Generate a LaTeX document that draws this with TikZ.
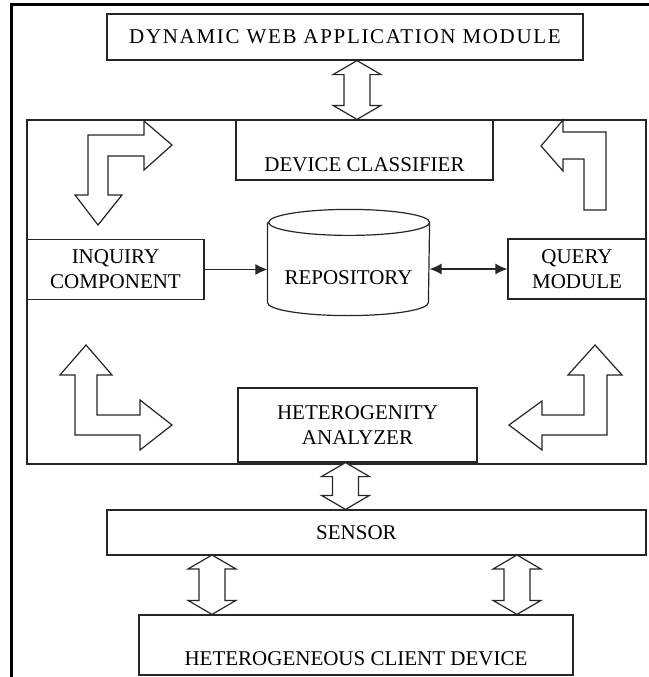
\documentclass[tikz,border=0pt]{standalone}
\usepackage{fontspec}
\setmainfont{Liberation Serif}
\usetikzlibrary{positioning, calc, arrows.meta}

% hollow up/down arrow between two tips
\newcommand{\twoway}[2]{%
  \draw[hollow] (#1) -- ++(24,14) -- ++(-11,0) 
  -- ($(#2)+(13,-14)$) -- ++(11,0) -- (#2) 
  -- ++(-24,-14) -- ++(11,0) 
  -- ($(#1)+(-13,14)$) -- ++(-11,0) -- cycle;}

\begin{document}
\begin{tikzpicture}[x=1pt, y=-1pt,
    block/.style={rectangle, 
      draw=black!85, 
      line width=1.2pt, 
      align=center, 
      inner sep=0pt, 
      font=\fontsize{21}{25}\selectfont},
    hollow/.style={draw=black!85, 
      line width=1.2pt, 
      fill=white, 
      line join=miter},
    link/.style={line width=1.2pt, 
      draw=black!85}]
  \useasboundingbox (0,0) rectangle (648,677);

  % outer frame, cut by the page
  \draw[line width=3pt] (11,700) -- (11,5) -- (700,5);

  \node[block, minimum width=476, minimum height=46, 
    font=\fontsize{21}{25}\selectfont\addfontfeatures{LetterSpace=8}] (webapp) 
    at (345,37) {DYNAMIC WEB APPLICATION MODULE};

  \node[block, minimum width=619, minimum height=344] (core) 
    at (336.5,292) {};

  \node[block, minimum width=257, minimum height=60, 
    text height=42pt, text depth=0pt] (classifier) 
    at (364.5,150) {DEVICE CLASSIFIER};

  \node[block, minimum width=177, minimum height=60] (inquiry) 
    at (115.5,269.5) {INQUIRY\\COMPONENT};

  \node[block, draw=none, minimum width=161, minimum height=105, 
    text height=43pt, text depth=0pt] (repo) 
    at (348.5,262.5) {REPOSITORY};

  \node[block, minimum width=138, minimum height=60] (query) 
    at (577,269) {QUERY\\MODULE};

  \node[block, minimum width=239, minimum height=74] (analyzer) 
    at (357.5,425) {HETEROGENITY\\ANALYZER};

  \node[block, minimum width=539, minimum height=45] (sensor) 
    at (376.5,532.5) {SENSOR\hspace*{40pt}};

  \node[block, minimum width=434, minimum height=60, 
    text height=40pt, text depth=0pt] (client) 
    at (356,645) {HETEROGENEOUS CLIENT DEVICE};

  % repository drum
  \draw[link] ([yshift=-13pt]repo.north west) 
    -- ([yshift=13pt]repo.south west) 
    arc[start angle=180, end angle=360, x radius=80.5pt, y radius=13pt] 
    -- ([yshift=-13pt]repo.north east) 
    arc[start angle=0, end angle=360, x radius=80.5pt, y radius=13pt];

  % DATA LINKS
  \draw[link, -{Latex[length=12pt, width=11pt]}] 
    (inquiry) -- (inquiry -| repo.west);
  \draw[link, {Latex[length=12pt, width=11pt]}-{Latex[length=12pt, width=11pt]}] 
    (repo.east |- query) -- (query);

  % HOLLOW TWO-WAY ARROWS
  \coordinate (t1) at ($(webapp.south)+(12,0)$);
  \coordinate (b1) at (t1 |- classifier.north);
  \twoway{t1}{b1}

  \coordinate (t2) at ($(analyzer.south)+(-12,0)$);
  \coordinate (b2) at (t2 |- sensor.north);
  \twoway{t2}{b2}

  \coordinate (t3) at (212,555);
  \coordinate (b3) at (t3 |- client.north);
  \twoway{t3}{b3}

  \coordinate (t4) at (517,555);
  \coordinate (b4) at (t4 |- client.north);
  \twoway{t4}{b4}

  % BENT FLOW ARROWS
  \draw[hollow] (172,145) -- (144,121) -- (144,135) -- (88,135) 
    -- (88,195) -- (75,195) -- (98,225) -- (122,195) -- (108,195) 
    -- (108,156) -- (144,156) -- (144,170) -- cycle;

  \draw[hollow] (541,146) -- (563,120) -- (563,132) -- (606,132) 
    -- (606,210) -- (584,210) -- (584,159) -- (563,159) 
    -- (563,171) -- cycle;

  \draw[hollow] (86,345) -- (112,375) -- (97,375) -- (97,415) 
    -- (140,415) -- (140,400) -- (172,425) -- (140,450) -- (140,435) 
    -- (75,435) -- (75,375) -- (60,375) -- cycle;

  \draw[hollow] (595,345) -- (622,375) -- (607,375) -- (607,435) 
    -- (542,435) -- (542,450) -- (509,425) -- (542,401) -- (542,415) 
    -- (584,415) -- (584,375) -- (568,375) -- cycle;

\end{tikzpicture}
\end{document}
